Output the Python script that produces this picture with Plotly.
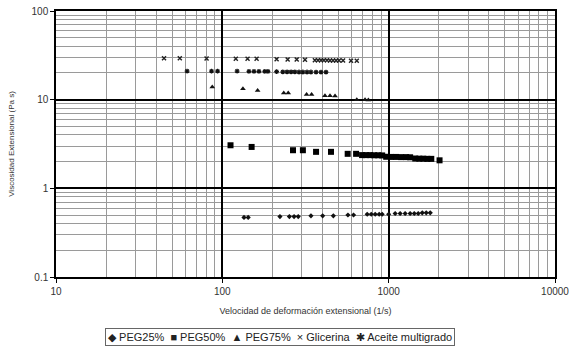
import plotly.graph_objects as go

# PEG25% (rombos)
peg25_x = [135, 143, 222, 253, 270, 286, 341, 401, 465, 569, 615, 743, 786, 830, 877, 914,
           1000, 1094, 1172, 1256, 1346, 1425, 1506, 1592, 1682, 1778]
peg25_y = [0.47, 0.47, 0.48, 0.48, 0.48, 0.48, 0.49, 0.49, 0.49, 0.50, 0.50, 0.51, 0.51, 0.51, 0.51, 0.51,
           0.51, 0.52, 0.52, 0.52, 0.52, 0.52, 0.52, 0.53, 0.53, 0.53]

# PEG50% (cuadrados)
peg50_x = [112, 150, 266, 305, 366, 450, 567, 637, 692, 731, 774, 818, 865, 914,
           966, 1035, 1109, 1189, 1274, 1346, 1445, 1528, 1615, 1707, 1804, 2023]
peg50_y = [3.06, 2.93, 2.69, 2.69, 2.58, 2.58, 2.45, 2.45, 2.37, 2.37, 2.37, 2.36, 2.36, 2.35,
           2.27, 2.26, 2.26, 2.25, 2.25, 2.24, 2.17, 2.16, 2.16, 2.15, 2.15, 2.07]

# PEG75% (triangulos)
peg75_x = [87, 133, 163, 234, 249, 321, 344, 414, 444, 476, 643, 721, 755]
peg75_y = [13.9, 13.3, 12.7, 11.9, 11.9, 11.4, 11.4, 11.1, 11.1, 11.0, 10.0, 10.0, 9.9]

# Glicerina (x)
gli_x = [44.6, 55.5, 80.4, 120.5, 141.8, 160.7, 212, 247, 280, 314,
         360, 376, 392, 408, 426, 444, 463, 483, 503, 532, 594, 643]
gli_y = [29.4, 29.4, 29.2, 29.0, 29.0, 29.0, 28.5, 28.3, 28.3, 28.2,
         27.9, 27.9, 27.8, 27.8, 27.8, 27.7, 27.7, 27.7, 27.6, 27.6, 27.5, 27.5]

# Aceite multigrado (asteriscos)
ace_x = [61.4, 86.1, 93.6, 122.7, 144.5, 155, 166, 180, 188, 212,
         231, 245, 259, 273, 289, 305, 323, 341, 366, 392, 420]
ace_y = [21.0, 21.0, 21.0, 21.0, 20.9, 20.9, 20.9, 20.8, 20.8, 20.7,
         20.6, 20.6, 20.6, 20.6, 20.5, 20.5, 20.5, 20.5, 20.4, 20.4, 20.4]

x_ticks = [10, 100, 1000, 10000]
y_ticks = [0.1, 1, 10, 100]

series_names = ["PEG25%", "PEG50%", "PEG75%", "Glicerina", "Aceite multigrado"]
legend_glyphs = ["◆", "■", "▲", "×", "✱"]

FONT = "Liberation Sans, Arial, sans-serif"

fig = go.Figure()
fig.add_trace(go.Scatter(x=peg25_x, y=peg25_y, name=series_names[0], mode="markers",
                         marker=dict(symbol="diamond", size=4, color="#111")))
fig.add_trace(go.Scatter(x=peg50_x, y=peg50_y, name=series_names[1], mode="markers",
                         marker=dict(symbol="square", size=6, color="#000")))
fig.add_trace(go.Scatter(x=peg75_x, y=peg75_y, name=series_names[2], mode="markers",
                         marker=dict(symbol="triangle-up", size=5, color="#111")))
fig.add_trace(go.Scatter(x=gli_x, y=gli_y, name=series_names[3], mode="markers",
                         marker=dict(symbol="x-thin-open", size=4, color="#222",
                                     line=dict(width=1.4, color="#222"))))
fig.add_trace(go.Scatter(x=ace_x, y=ace_y, name=series_names[4], mode="markers",
                         marker=dict(symbol="asterisk-open", size=4, color="#111",
                                     line=dict(width=1.2, color="#111"))))

axis_common = dict(
    type="log", showline=True, linecolor="#000", linewidth=1.5, mirror=True,
    showgrid=True, gridcolor="#000", gridwidth=1.5,
    ticks="outside", ticklen=4, tickcolor="#000",
    tickfont=dict(size=10, color="#333", family=FONT),
    minor=dict(dtick="D1", showgrid=True, gridcolor="#9a9a9a", gridwidth=1, ticks=""),
    zeroline=False, automargin=False,
)

fig.update_xaxes(axis_common, range=[1, 4], tickvals=x_ticks,
                 ticktext=[str(v) for v in x_ticks], ticklabeloverflow="allow",
                 title=dict(text="Velocidad de deformación extensional (1/s)",
                            font=dict(size=9, color="#333", family=FONT), standoff=12))
fig.update_yaxes(axis_common, range=[-1, 2], tickvals=y_ticks,
                 ticktext=["0.1", "1", "10", "100"],
                 title=dict(text="Viscosidad Extensional (Pa s)",
                            font=dict(size=8, color="#333", family=FONT), standoff=16))

# leyenda compacta, como en la figura original
legend_text = "  ".join(g + " " + n for g, n in zip(legend_glyphs, series_names))
fig.add_annotation(text=legend_text, xref="paper", yref="paper", x=0.449, y=-0.226,
                   xanchor="center", yanchor="middle", showarrow=False,
                   font=dict(size=11, color="#222", family=FONT),
                   bordercolor="#666", borderwidth=1, borderpad=2, bgcolor="white")

fig.update_layout(
    width=569, height=347,
    margin=dict(l=56, r=14, t=11, b=70),
    paper_bgcolor="white", plot_bgcolor="white",
    font=dict(family=FONT, color="#333"),
    showlegend=False,
)

# sin margen del <body>, para que la figura ocupe la ventana entera
fig.write_html("out.html", config={"displayModeBar": False},
               post_script="document.body.style.margin='0';")
